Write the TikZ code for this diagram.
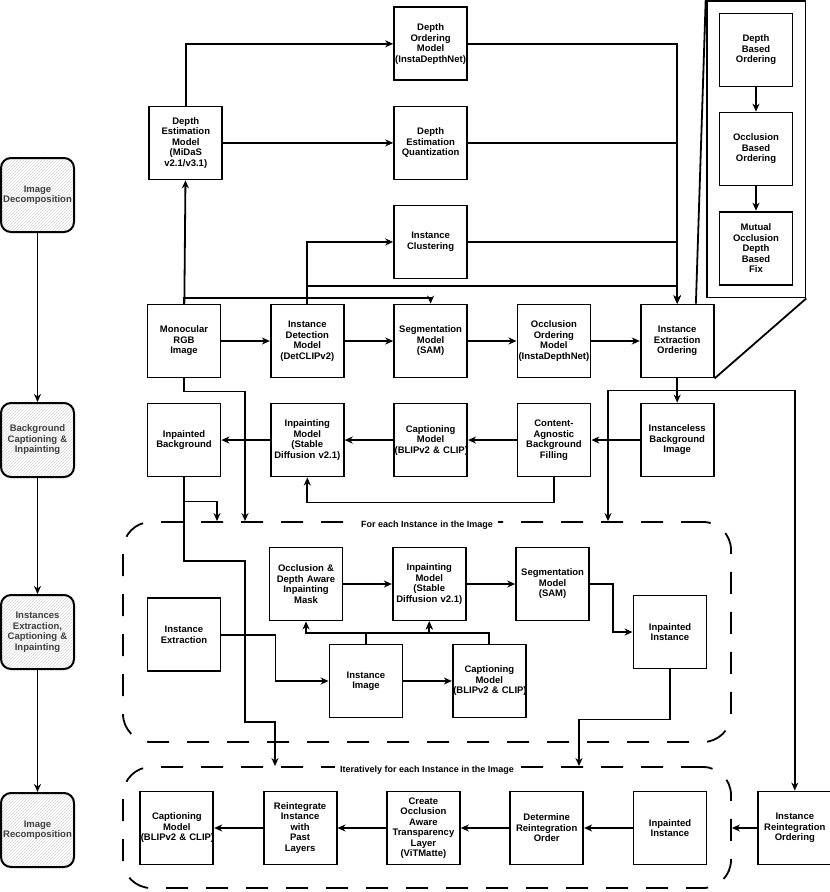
\documentclass[tikz,border=0pt]{standalone}
\usepackage{fontspec}
\setmainfont{Liberation Sans}
\usetikzlibrary{arrows.meta, positioning, fit, calc, patterns}

\begin{document}
\begin{tikzpicture}[x=1pt, y=1pt, node distance=24.25pt and 48.5pt, every node/.style={font=\fontsize{9.5}{10.5}\selectfont\bfseries}]
  % 样式
  \tikzstyle{box}=[rectangle, draw=black, line width=1.8pt, minimum width=73pt, minimum height=73pt, text width=72pt, inner sep=0.5pt, align=center]
  \tikzstyle{stage}=[rectangle, rounded corners=10pt, draw=black, line width=2pt, minimum width=73pt, minimum height=74pt, text width=72pt, inner sep=0.5pt, align=center, pattern=north east lines, pattern color=black!15, text=black!75]
  \tikzstyle{panel}=[rectangle, draw=black, line width=1.8pt, inner sep=12pt]
  \tikzstyle{group}=[rectangle, rounded corners=28pt, draw=black, line width=1.8pt, dash pattern=on 22pt off 18pt]
  \tikzstyle{grouplabel}=[fill=white, inner sep=5pt, font=\fontsize{9}{10}\selectfont\bfseries]
  \tikzstyle{arrow}=[line width=1.8pt, ->, >={Stealth[length=8pt, width=7pt, inset=2.5pt]}]
  \tikzstyle{link}=[line width=1.8pt]

  \useasboundingbox (0,0) rectangle (830,-892);

  % 左侧阶段
  \node (stage_decomp) [stage] at (37.5,-195) {Image\\Decomposition};
  \node (stage_bg) [stage] at (37.5,-440) {Background\\Captioning~\&\\Inpainting};
  \node (stage_inst) [stage] at (37.5,-632) {Instances\\Extraction,\\Captioning~\&\\Inpainting};
  \node (stage_recomp) [stage] at (37.5,-830) {Image\\Recomposition};

  % 第一行
  \node (mono) [box] at (184,-341) {Monocular\\RGB\\Image};
  \node (det) [box, right=of mono] {Instance\\Detection\\Model\\(DetCLIPv2)};
  \node (seg) [box, right=of det] {Segmentation\\Model\\(SAM)};
  \node (occ_order) [box, right=of seg] {Occlusion\\Ordering\\Model\\(InstaDepthNet)};
  \node (ext_order) [box, right=of occ_order] {Instance\\Extraction\\Ordering};

  % 深度分支
  \node (clust) [box, above=of seg] {Instance\\Clustering};
  \node (quant) [box, above=of clust] {Depth\\Estimation\\Quantization};
  \node (depth_order) [box, above=of quant] {Depth\\Ordering\\Model\\(InstaDepthNet)};
  \node (depth_est) [box, left=170pt of quant] {Depth\\Estimation\\Model\\(MiDaS\\v2.1/v3.1)};

  % 排序细节
  \node (depth_based) [box] at (756,-50) {Depth\\Based\\Ordering};
  \node (occ_based) [box, below=of depth_based] {Occlusion\\Based\\Ordering};
  \node (mutual_fix) [box, below=of occ_based] {Mutual\\Occlusion\\Depth\\Based\\Fix};
  \node (detail) [panel, fit=(depth_based)(mutual_fix)] {};

  % 第二行
  \node (instless) [box, below=of ext_order] {Instanceless\\Background\\Image};
  \node (cabf) [box, left=of instless] {Content-\\Agnostic\\Background\\Filling};
  \node (bg_capt) [box, left=of cabf] {Captioning\\Model\\(BLIPv2~\&~CLIP)};
  \node (bg_inpaint) [box, left=of bg_capt] {Inpainting\\Model\\(Stable\\Diffusion~v2.1)};
  \node (bg_done) [box, left=of bg_inpaint] {Inpainted\\Background};

  % 实例循环
  \node (loop_inst) [group, minimum width=608pt, minimum height=220pt] at (427,-632) {};
  \node (loop_inst_label) [grouplabel] at ([yshift=-4pt]loop_inst.north) {For each Instance in the Image};
  \node (inst_ext) [box, below=120pt of bg_done] {Instance\\Extraction};
  \node (mask) [box] at (306,-584) {Occlusion~\&\\Depth~Aware\\Inpainting\\Mask};
  \node (inst_inpaint) [box, right=of mask] {Inpainting\\Model\\(Stable\\Diffusion~v2.1)};
  \node (inst_seg) [box, right=of inst_inpaint] {Segmentation\\Model\\(SAM)};
  \node (inst_done) [box] at (670,-632) {Inpainted\\Instance};
  \node (inst_img) [box] at (366,-681) {Instance\\Image};
  \node (inst_capt) [box, right=of inst_img] {Captioning\\Model\\(BLIPv2~\&~CLIP)};

  % 重组
  \node (loop_re) [group, minimum width=608pt, minimum height=121pt] at (427,-827.5) {};
  \node (loop_re_label) [grouplabel] at ([yshift=-4pt]loop_re.north) {Iteratively for each Instance in the Image};
  \node (re_in) [box] at (670,-828) {Inpainted\\Instance};
  \node (re_order) [box, left=of re_in] {Determine\\Reintegration\\Order};
  \node (re_alpha) [box, left=of re_order] {Create\\Occlusion\\Aware\\Transparency\\Layer\\(ViTMatte)};
  \node (re_merge) [box, left=of re_alpha] {Reintegrate\\Instance\\with\\Past\\Layers};
  \node (re_capt) [box, left=of re_merge] {Captioning\\Model\\(BLIPv2~\&~CLIP)};
  \node (reint_order) [box, right=50pt of re_in] {Instance\\Reintegration\\Ordering};

  % 连线
  \draw[arrow] (stage_decomp) -- (stage_bg);
  \draw[arrow] (stage_bg) -- (stage_inst);
  \draw[arrow] (stage_inst) -- (stage_recomp);

  \draw[arrow] (mono) -- (det);
  \draw[arrow] (det) -- (seg);
  \draw[arrow] (seg) -- (occ_order);
  \draw[arrow] (occ_order) -- (ext_order);
  \draw[arrow] (mono) -- (depth_est);
  \draw[arrow] (mono.north) -- ++(0,6) -| (seg.north);
  \draw[arrow] (depth_est.north) |- (depth_order.west);
  \draw[arrow] (depth_est) -- (quant);
  \draw[arrow] (det.north) |- (clust.west);
  \draw[arrow] (det.north) -- ++(0,18) -| (ext_order.north);
  \draw[arrow] (depth_order.east) -| (ext_order.north);
  \draw[arrow] (quant.east) -| (ext_order.north);
  \draw[arrow] (clust.east) -| (ext_order.north);
  \draw[arrow] (depth_based) -- (occ_based);
  \draw[arrow] (occ_based) -- (mutual_fix);
  \draw[link] (detail.north west) -- ($(ext_order.north)!0.5!(ext_order.north east)$);
  \draw[link] (detail.south east) -- (ext_order.south east);

  \draw[arrow] (ext_order) -- (instless);
  \draw[arrow] (ext_order.south) -- ++(0,-12) -| (608,0 |- loop_inst.north);
  \draw[arrow] (ext_order.south) -- ++(0,-12) -| (reint_order.north);
  \draw[arrow] (instless) -- (cabf);
  \draw[arrow] (cabf) -- (bg_capt);
  \draw[arrow] (bg_capt) -- (bg_inpaint);
  \draw[arrow] (bg_inpaint) -- (bg_done);
  \draw[arrow] (cabf.south) -- ++(0,-25) -| (bg_inpaint.south);
  \draw[arrow] (mono.south) -- ++(0,-13) -| (245,0 |- loop_inst.north);
  \draw[arrow] (bg_done.south) -- ++(0,-24) -| (217,0 |- loop_inst.north);
  \draw[arrow] (bg_done.south) |- (245,-561) |- (275,-722) -- (275,0 |- loop_re.north);

  \draw[arrow] (inst_ext.east) -- ++(54,0) |- (inst_img.west);
  \draw[arrow] (inst_img) -- (inst_capt);
  \draw[arrow] (inst_img.north) -- ++(0,11) -| (mask.south);
  \draw[arrow] (inst_img.north) -- ++(0,11) -| (inst_inpaint.south);
  \draw[arrow] (inst_capt.north) -- ++(0,11) -| (inst_inpaint.south);
  \draw[arrow] (mask) -- (inst_inpaint);
  \draw[arrow] (inst_inpaint) -- (inst_seg);
  \draw[arrow] (inst_seg.east) -- ++(23,0) |- (inst_done.west);
  \draw[arrow] (inst_done.south) -- ++(0,-50) -| (579,0 |- loop_re.north);

  \draw[arrow] (reint_order.west) -- (loop_re.east |- reint_order.west);
  \draw[arrow] (re_in) -- (re_order);
  \draw[arrow] (re_order) -- (re_alpha);
  \draw[arrow] (re_alpha) -- (re_merge);
  \draw[arrow] (re_merge) -- (re_capt);
\end{tikzpicture}
\end{document}
